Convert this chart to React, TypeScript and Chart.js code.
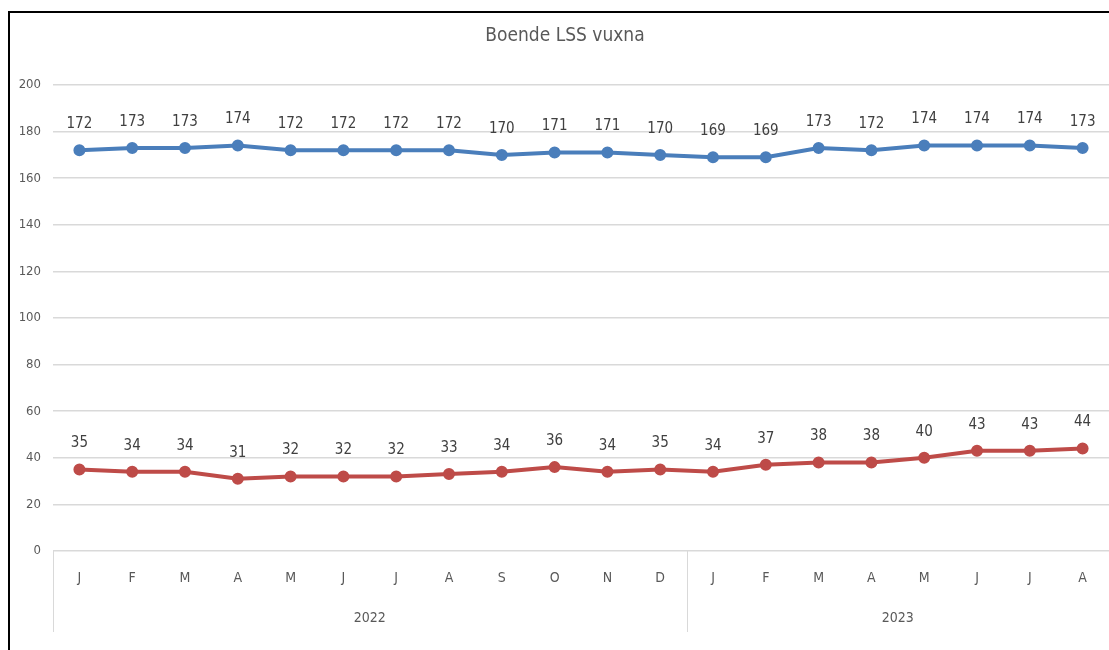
import React, { useEffect, useRef } from "react";
import { Chart, registerables } from "chart.js";

Chart.register(...registerables);

const title = "Boende LSS vuxna";
const months = ["J", "F", "M", "A", "M", "J", "J", "A", "S", "O", "N", "D", "J", "F", "M", "A", "M", "J", "J", "A"];
const years = ["2022", "2023"];
const yearCounts = [12, 8];
const seriesBlue = [172, 173, 173, 174, 172, 172, 172, 172, 170, 171, 171, 170, 169, 169, 173, 172, 174, 174, 174, 173];
const seriesRed = [35, 34, 34, 31, 32, 32, 32, 33, 34, 36, 34, 35, 34, 37, 38, 38, 40, 43, 43, 44];
const yTicks = [0, 20, 40, 60, 80, 100, 120, 140, 160, 180, 200];

const FONT = "'DejaVu Sans Condensed', 'Liberation Sans Narrow', 'Open Sans', sans-serif";

const decorPlugin = {
  id: "decor",
  beforeDraw(chart: any) {
    const { ctx } = chart;
    ctx.save();
    ctx.fillStyle = "#ffffff";
    ctx.fillRect(0, 0, chart.width, chart.height);
    ctx.strokeStyle = "#000000";
    ctx.lineWidth = 2;
    ctx.beginPath();
    ctx.moveTo(9, chart.height);
    ctx.lineTo(9, 12);
    ctx.lineTo(chart.width, 12);
    ctx.stroke();
    ctx.fillStyle = "#595959";
    ctx.font = `19px ${FONT}`;
    ctx.textAlign = "center";
    ctx.textBaseline = "middle";
    ctx.fillText(title, 565, 36);
    ctx.restore();
  },
  afterDraw(chart: any) {
    const { ctx, chartArea } = chart;
    const x = chart.scales.x;
    ctx.save();
    const bottom = x.bottom;
    ctx.strokeStyle = "#d9d9d9";
    ctx.lineWidth = 1;
    let start = 0;
    const bounds: number[] = [chartArea.left];
    yearCounts.forEach((c, i) => {
      const end = start + c;
      const right = end >= months.length ? chartArea.right : (x.getPixelForValue(end - 1) + x.getPixelForValue(end)) / 2;
      bounds.push(right);
      const left = bounds[i];
      ctx.fillStyle = "#595959";
      ctx.font = `14px ${FONT}`;
      ctx.textAlign = "center";
      ctx.textBaseline = "middle";
      ctx.fillText(years[i], (left + right) / 2, 618);
      start = end;
    });
    bounds.slice(0, bounds.length - 1).forEach((bx) => {
      const px = Math.round(bx) + 0.5;
      ctx.beginPath();
      ctx.moveTo(px, chartArea.bottom);
      ctx.lineTo(px, bottom);
      ctx.stroke();
    });
    ctx.fillStyle = "#404040";
    ctx.font = `15px ${FONT}`;
    ctx.textAlign = "center";
    ctx.textBaseline = "middle";
    chart.data.datasets.forEach((ds: any, di: number) => {
      const meta = chart.getDatasetMeta(di);
      meta.data.forEach((pt: any, i: number) => {
        ctx.fillText(String(ds.data[i]), pt.x, pt.y - 26);
      });
    });
    ctx.restore();
  },
};

export default function App() {
  const ref = useRef<HTMLCanvasElement>(null);
  useEffect(() => {
    if (!ref.current) return;
    const chart = new Chart(ref.current, {
      type: "line",
      data: {
        labels: months,
        datasets: [
          {
            data: seriesBlue,
            borderColor: "#4a7ebb",
            backgroundColor: "#4a7ebb",
            borderWidth: 4,
            pointRadius: 4,
            pointHoverRadius: 4,
            tension: 0,
          },
          {
            data: seriesRed,
            borderColor: "#be4b48",
            backgroundColor: "#be4b48",
            borderWidth: 4,
            pointRadius: 4,
            pointHoverRadius: 4,
            tension: 0,
          },
        ],
      },
      options: {
        animation: false,
        responsive: false,
        maintainAspectRatio: false,
        layout: { autoPadding: false, padding: { top: 85, right: 0, bottom: 18, left: 0 } },
        plugins: { legend: { display: false }, tooltip: { enabled: false } },
        scales: {
          x: {
            offset: true,
            grid: { display: false, drawTicks: false, offset: true },
            border: { display: false },
            ticks: { color: "#595959", font: { family: FONT, size: 14 }, padding: 19, maxRotation: 0, autoSkip: false },
            afterFit(scale: any) {
              scale.height = 81;
            },
          },
          y: {
            min: 0,
            max: 200,
            afterBuildTicks(scale: any) {
              scale.ticks = yTicks.map((v) => ({ value: v }));
            },
            grid: { color: "#d9d9d9", drawTicks: false, lineWidth: 1.5 },
            border: { display: false },
            ticks: { color: "#595959", font: { family: FONT, size: 13 }, padding: 12 },
            afterFit(scale: any) {
              scale.width = 53;
            },
          },
        },
      },
      plugins: [decorPlugin],
    });
    return () => chart.destroy();
  }, []);
  return (
    <div style={{ position: "absolute", left: 0, top: 0, width: 1109, height: 650 }}>
      <canvas ref={ref} width={1109} height={650} style={{ display: "block" }} />
    </div>
  );
}
